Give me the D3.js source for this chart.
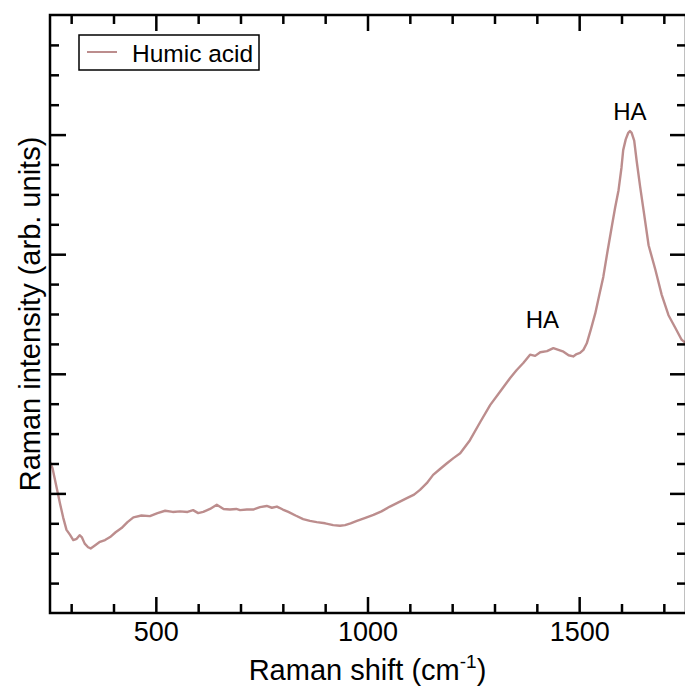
<!DOCTYPE html>
<html>
<head>
<meta charset="utf-8">
<script src="https://cdn.jsdelivr.net/npm/d3@7"></script>
<style>
  body { margin: 0; background: #fff; }
  text { font-family: "Liberation Sans", Arial, Helvetica, sans-serif; fill: #000; }
</style>
</head>
<body>
<div id="chart"></div>
<script>
// spectrum: Raman shift (cm-1) and intensity (arb. units)
var shift = [250, 256, 262, 268, 274, 281, 289, 297, 305, 313, 320, 325, 332, 340, 346, 356, 368, 380, 392, 405,
  419, 433, 447, 466, 486, 504, 522, 540, 557, 575, 588, 600, 612, 628, 644, 660, 675, 690, 699, 715,
  730, 746, 762, 774, 786, 800, 813, 830, 848, 864, 880, 900, 919, 935, 947, 960, 975, 995, 1014, 1033,
  1053, 1073, 1093, 1110, 1124, 1140, 1155, 1170, 1187, 1203, 1219, 1242, 1266, 1290, 1313, 1337, 1352, 1368, 1384, 1396,
  1408, 1424, 1439, 1451, 1463, 1475, 1486, 1494, 1502, 1510, 1518, 1528, 1538, 1547, 1557, 1567, 1577, 1585, 1593, 1600,
  1604, 1610, 1616, 1620, 1624, 1630, 1636, 1644, 1652, 1664, 1680, 1695, 1711, 1727, 1742, 1750];
var intensity = [2.52, 2.42, 2.22, 2.02, 1.82, 1.60, 1.39, 1.31, 1.22, 1.24, 1.30, 1.27, 1.16, 1.10, 1.08, 1.13, 1.19, 1.22, 1.27, 1.35,
  1.42, 1.52, 1.60, 1.63, 1.62, 1.67, 1.71, 1.69, 1.70, 1.69, 1.72, 1.67, 1.69, 1.74, 1.81, 1.74, 1.73, 1.74, 1.72, 1.73,
  1.73, 1.77, 1.79, 1.76, 1.78, 1.73, 1.69, 1.63, 1.57, 1.54, 1.52, 1.50, 1.47, 1.46, 1.47, 1.50, 1.54, 1.59, 1.64, 1.70,
  1.78, 1.85, 1.92, 1.98, 2.06, 2.17, 2.31, 2.40, 2.50, 2.59, 2.67, 2.89, 3.19, 3.48, 3.70, 3.93, 4.06, 4.18, 4.32, 4.30,
  4.36, 4.38, 4.43, 4.40, 4.37, 4.31, 4.29, 4.33, 4.35, 4.40, 4.51, 4.75, 5.01, 5.30, 5.62, 6.05, 6.46, 6.78, 7.07, 7.45,
  7.74, 7.92, 8.03, 8.06, 8.03, 7.90, 7.55, 7.13, 6.74, 6.15, 5.74, 5.32, 4.98, 4.77, 4.57, 4.52];

var xMajor = [500, 1000, 1500];
var xMinor = [300, 400, 600, 700, 800, 900, 1100, 1200, 1300, 1400, 1600, 1700];
var yMajor = [2, 4, 6, 8];
var yMinor = [0.5, 1, 1.5, 2.5, 3, 3.5, 4.5, 5, 5.5, 6.5, 7, 7.5, 8.5, 9, 9.5];

var peakLabels = [{x: 1413, y: 4.77, text: "HA"}, {x: 1620, y: 8.24, text: "HA"}];
var legendName = "Humic acid";
var lineColor = "#bc8d8d";

var svgWidth = 685;
var svgHeight = 691;
var margin = {top: 15, right: 0, bottom: 78, left: 50};
var chartWidth = svgWidth - margin.left - margin.right;
var chartHeight = svgHeight - margin.top - margin.bottom;

var svg = d3.select("#chart")
  .append("svg")
  .attr("width", svgWidth)
  .attr("height", svgHeight);

var chartGroup = svg.append("g")
  .attr("transform", `translate(${margin.left}, ${margin.top})`);

var xScale = d3.scaleLinear().domain([250, 1750]).range([0, chartWidth]);
var yScale = d3.scaleLinear().domain([0, 10]).range([chartHeight, 0]);

var data = shift.map(function(s, i) { return {x: s, y: intensity[i]}; });

// curve
chartGroup.append("path")
  .datum(data)
  .attr("fill", "none")
  .attr("stroke", lineColor)
  .attr("stroke-width", 2.4)
  .attr("stroke-linejoin", "round")
  .attr("d", d3.line().x(d => xScale(d.x)).y(d => yScale(d.y)));

// ticks on all four sides, pointing inward
function tickAxis(axisFn, scale, values, size, transform) {
  var g = chartGroup.append("g")
    .attr("transform", transform)
    .call(axisFn(scale).tickValues(values).tickSize(size).tickFormat(""));
  g.select(".domain").remove();
  g.selectAll("line").attr("stroke", "#000").attr("stroke-width", 2.5);
  return g;
}

var bottomMajor = chartGroup.append("g")
  .attr("transform", `translate(0, ${chartHeight})`)
  .call(d3.axisBottom(xScale).tickValues(xMajor).tickSize(-16).tickPadding(9).tickFormat(d3.format("d")));
bottomMajor.select(".domain").remove();
bottomMajor.selectAll("line").attr("stroke", "#000").attr("stroke-width", 2.5);
bottomMajor.selectAll("text")
  .attr("font-size", "27px")
  .attr("font-family", "'Liberation Sans', Arial, sans-serif")
  .attr("fill", "#000");

tickAxis(d3.axisBottom, xScale, xMinor, -9, `translate(0, ${chartHeight})`);
tickAxis(d3.axisTop, xScale, xMajor, -16, "translate(0, 0)");
tickAxis(d3.axisTop, xScale, xMinor, -9, "translate(0, 0)");
tickAxis(d3.axisLeft, yScale, yMajor, -16, "translate(0, 0)");
tickAxis(d3.axisLeft, yScale, yMinor, -9, "translate(0, 0)");
tickAxis(d3.axisRight, yScale, yMajor, -16, `translate(${chartWidth + 1}, 0)`);
tickAxis(d3.axisRight, yScale, yMinor, -9, `translate(${chartWidth + 1}, 0)`);

// frame
chartGroup.append("rect")
  .attr("x", 0)
  .attr("y", 0)
  .attr("width", chartWidth + 1)
  .attr("height", chartHeight)
  .attr("fill", "none")
  .attr("stroke", "#000")
  .attr("stroke-width", 2.5);

// peak labels
chartGroup.selectAll(".peak")
  .data(peakLabels)
  .enter()
  .append("text")
  .attr("class", "peak")
  .attr("x", d => xScale(d.x))
  .attr("y", d => yScale(d.y))
  .attr("text-anchor", "middle")
  .attr("font-size", "24px")
  .text(d => d.text);

// legend
var legend = chartGroup.append("g").attr("transform", "translate(29, 20)");
legend.append("rect")
  .attr("width", 180)
  .attr("height", 35)
  .attr("fill", "#fff")
  .attr("stroke", "#000")
  .attr("stroke-width", 1.5);
legend.append("line")
  .attr("x1", 8).attr("x2", 38)
  .attr("y1", 17).attr("y2", 17)
  .attr("stroke", lineColor)
  .attr("stroke-width", 2);
legend.append("text")
  .attr("x", 53)
  .attr("y", 27)
  .attr("font-size", "24.5px")
  .text(legendName);

// axis titles
var xTitle = chartGroup.append("text")
  .attr("x", chartWidth / 2)
  .attr("y", chartHeight + 67)
  .attr("text-anchor", "middle")
  .attr("font-size", "29px");
xTitle.append("tspan").text("Raman shift (cm");
xTitle.append("tspan").attr("dy", -12).attr("font-size", "19px").text("-1");
xTitle.append("tspan").attr("dy", 12).text(")");

chartGroup.append("text")
  .attr("transform", "rotate(-90)")
  .attr("x", -chartHeight / 2)
  .attr("y", -10)
  .attr("text-anchor", "middle")
  .attr("font-size", "29px")
  .text("Raman intensity (arb. units)");
</script>
</body>
</html>
